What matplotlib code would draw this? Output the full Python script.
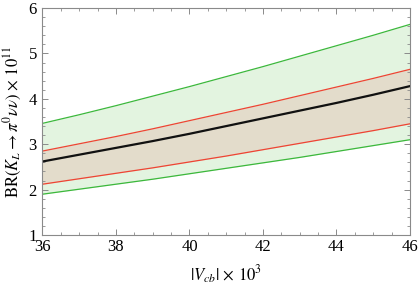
import matplotlib
matplotlib.use("Agg")
import matplotlib.pyplot as plt
from matplotlib.ticker import MultipleLocator

plt.rcParams['font.family'] = ['Liberation Serif', 'DejaVu Serif']
plt.rcParams['mathtext.fontset'] = 'stix'

vcb = [36, 37, 38, 39, 40, 41, 42, 43, 44, 45, 46]
central = [2.62, 2.77, 2.92, 3.07, 3.23, 3.40, 3.57, 3.74, 3.91, 4.09, 4.28]
green_hi = [3.46, 3.65, 3.85, 4.06, 4.27, 4.49, 4.71, 4.94, 5.17, 5.40, 5.64]
red_hi = [2.85, 3.01, 3.17, 3.34, 3.52, 3.70, 3.88, 4.07, 4.26, 4.45, 4.65]
red_lo = [2.12, 2.24, 2.36, 2.48, 2.61, 2.74, 2.88, 3.02, 3.16, 3.30, 3.45]
green_lo = [1.90, 2.01, 2.12, 2.23, 2.35, 2.47, 2.59, 2.71, 2.84, 2.97, 3.10]

fig = plt.figure(figsize=(4.19, 2.87), dpi=100)
ax = fig.add_axes([0.1014, 0.181, 0.877, 0.791])

ax.fill_between(vcb, green_lo, green_hi, color='#e3f4e0', lw=0)
ax.fill_between(vcb, red_lo, red_hi, color='#e3dccb', lw=0)
ax.plot(vcb, green_hi, color='#3cb83c', lw=0.9)
ax.plot(vcb, green_lo, color='#3cb83c', lw=0.9)
ax.plot(vcb, red_hi, color='#ee4433', lw=0.9)
ax.plot(vcb, red_lo, color='#ee4433', lw=0.9)
ax.plot(vcb, central, color='#111111', lw=1.6)

ax.set_xlim(36, 46)
ax.set_ylim(1, 6)
ax.xaxis.set_major_locator(MultipleLocator(2))
ax.xaxis.set_minor_locator(MultipleLocator(0.5))
ax.yaxis.set_major_locator(MultipleLocator(1))
ax.yaxis.set_minor_locator(MultipleLocator(0.2))

for s in ax.spines.values():
    s.set_color('#8a8a8a')
    s.set_linewidth(0.8)
ax.tick_params(which='both', direction='in', top=True, right=True,
               color='#8a8a8a', labelsize=12)
ax.tick_params(which='major', length=4, width=0.7)
ax.tick_params(which='minor', length=2.2, width=0.6)
ax.tick_params(axis='x', pad=3)
ax.tick_params(axis='y', pad=4)

ax.set_xlabel(r'$|V_{cb}|\,\times\,10^3$', fontsize=12, labelpad=6)
ax.set_ylabel(r'$\mathrm{BR}(K_L\rightarrow \pi^0\nu\nu)\,\times\,10^{11}$', fontsize=12, labelpad=3)

fig.savefig('out.png', dpi=100)
